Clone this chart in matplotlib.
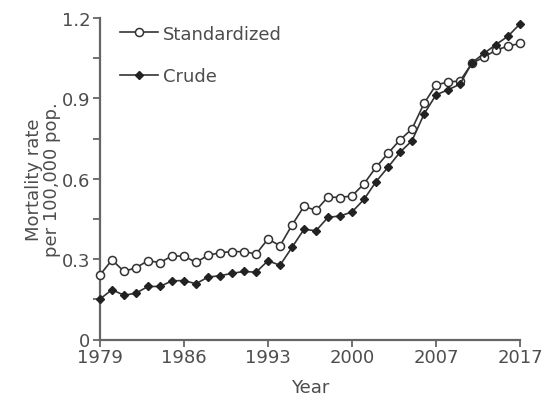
import matplotlib
matplotlib.use("Agg")
import matplotlib.pyplot as plt
from matplotlib.ticker import MultipleLocator

tick_labels = ["1979", "1986", "1993", "2000", "2007", "2017"]
tick_index = [0, 7, 14, 21, 28, 35]

standardized = [0.241, 0.297, 0.254, 0.268, 0.294, 0.287, 0.312, 0.311, 0.288, 0.314,
                0.324, 0.328, 0.328, 0.319, 0.375, 0.350, 0.427, 0.497, 0.482, 0.532,
                0.530, 0.536, 0.581, 0.643, 0.695, 0.745, 0.786, 0.881, 0.950, 0.961,
                0.965, 1.031, 1.054, 1.080, 1.095, 1.105]
crude = [0.151, 0.186, 0.165, 0.173, 0.198, 0.198, 0.219, 0.220, 0.208, 0.233,
         0.238, 0.247, 0.254, 0.251, 0.294, 0.277, 0.344, 0.411, 0.406, 0.456,
         0.461, 0.476, 0.523, 0.589, 0.643, 0.699, 0.742, 0.841, 0.913, 0.932,
         0.953, 1.033, 1.068, 1.101, 1.132, 1.178]

plt.rcParams['font.family'] = ['DejaVu Sans']
grey = "#4d4d4d"
linec = "#333333"

fig = plt.figure(figsize=(5.45, 4.02), dpi=100)
ax = fig.add_axes([100/545, 61.5/402, 420/545, 321.5/402])

x = list(range(len(standardized)))
ax.plot(x, standardized, color=linec, lw=1.2, marker='o', ms=5.8, mfc='white',
        mec=linec, mew=1.1, label='Standardized', clip_on=False, zorder=3)
ax.plot(x, crude, color=linec, lw=1.2, marker='D', ms=4.0, mfc='#222222',
        mec='#222222', label='Crude', clip_on=False, zorder=4)

ax.set_xlim(0, 35)
ax.set_ylim(0, 1.2)
ax.set_xticks(tick_index)
ax.set_xticklabels(tick_labels)
ax.set_yticks([0, 0.3, 0.6, 0.9, 1.2])
ax.set_yticklabels(["0", "0.3", "0.6", "0.9", "1.2"])
ax.yaxis.set_minor_locator(MultipleLocator(0.15))

for s in ['top', 'right']:
    ax.spines[s].set_visible(False)
for s in ['left', 'bottom']:
    ax.spines[s].set_color('#666666')
    ax.spines[s].set_linewidth(1.6)

ax.tick_params(axis='both', which='both', direction='out', length=5, width=1.3,
               color='#666666', labelcolor=grey, labelsize=13, pad=2)
ax.tick_params(axis='x', pad=1)

ax.set_xlabel("Year", fontsize=13, color=grey, labelpad=9)
ax.set_ylabel("Mortality rate\nper 100,000 pop.", fontsize=13, color=grey,
              labelpad=0.5, linespacing=1.0)

leg = ax.legend(loc='upper left', bbox_to_anchor=(0.009, 1.03), frameon=False,
                fontsize=13, handlelength=2.1, handletextpad=0.3, labelspacing=1.35)
for t in leg.get_texts():
    t.set_color(grey)

fig.savefig("out.png", dpi=100)
